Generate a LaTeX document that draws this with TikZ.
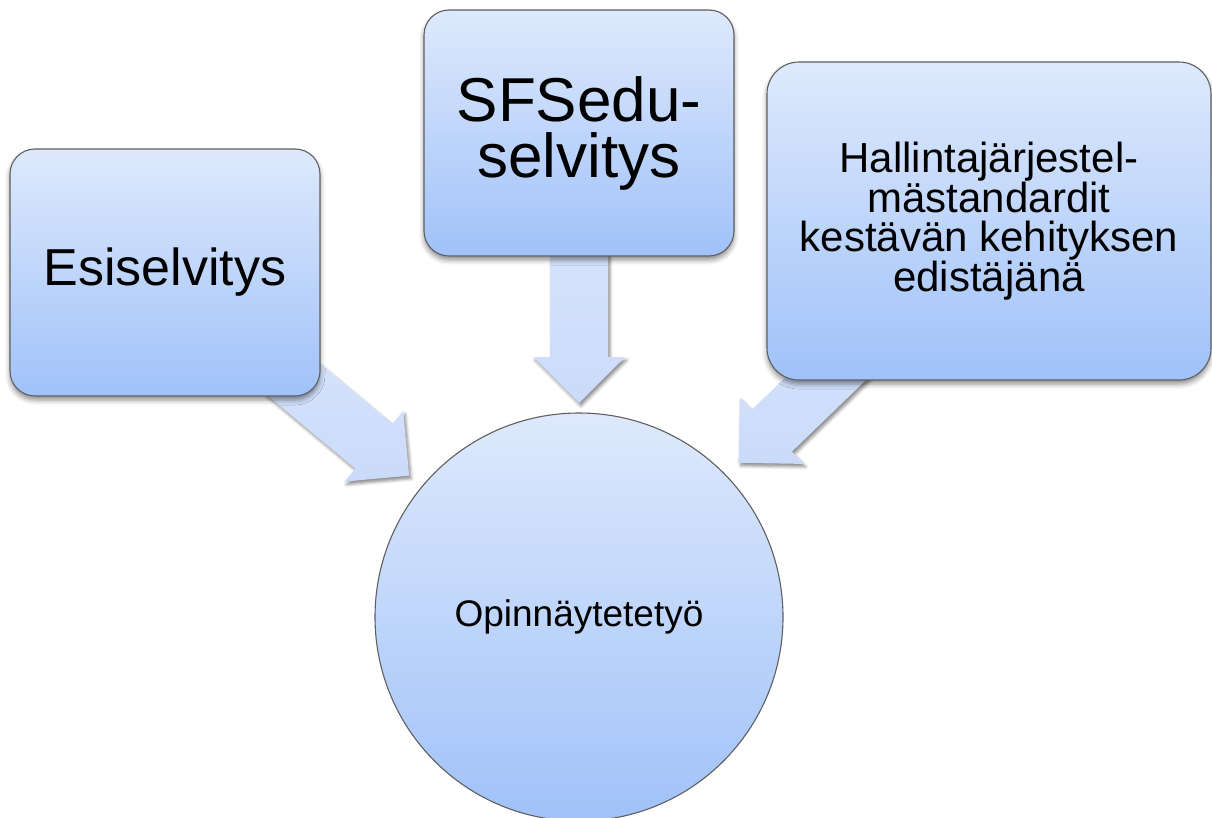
\documentclass[tikz,border=0pt]{standalone}
\usepackage{fontspec}
\setmainfont{Liberation Sans}
\usetikzlibrary{calc,shadows.blur}
\pgfdeclarelayer{bg}
\pgfsetlayers{bg,main}
\definecolor{boxtop}{RGB}{222,233,252}
\definecolor{boxbot}{RGB}{160,194,249}
\definecolor{arrtop}{RGB}{222,232,252}
\definecolor{arrbot}{RGB}{202,219,250}
\definecolor{edgegray}{RGB}{95,95,95}
\tikzset{
  boxshape/.style={draw=edgegray, line width=1.1pt, rounded corners=25pt,
    top color=boxtop, bottom color=boxbot, inner sep=0pt, align=center,
    blur shadow={shadow xshift=0pt, shadow yshift=-4pt, shadow blur radius=5pt, shadow opacity=45}},
  circshape/.style={circle, draw=edgegray, line width=1.1pt,
    top color=boxtop, bottom color=boxbot, inner sep=0pt, align=center},
  arrowshape/.style={top color=arrtop, bottom color=arrbot, draw=none,
    blur shadow={shadow xshift=2pt, shadow yshift=-3pt, shadow blur radius=3pt, shadow opacity=45}}
}
\newcommand\blockarrow[3]{% #1 start, #2 tip, #3 name
  \coordinate (#3hb) at ($(#2)!46pt!(#1)$);
  \path[arrowshape] ($(#1)!29pt!90:(#2)$) -- ($(#3hb)!29pt!90:(#2)$) -- ($(#3hb)!46pt!90:(#2)$) -- (#2)
    -- ($(#3hb)!46pt!-90:(#2)$) -- ($(#3hb)!29pt!-90:(#2)$) -- ($(#1)!29pt!-90:(#2)$) -- cycle;}
\begin{document}
\begin{tikzpicture}[x=1pt,y=-1pt]
\useasboundingbox (0,0) rectangle (1212,817);
\node[boxshape, minimum width=310pt, minimum height=247pt, font=\fontsize{52}{56}\selectfont] (esi) at (165,272.5) {Esiselvitys};
\node[boxshape, minimum width=310pt, minimum height=246pt, font=\fontsize{62}{56}\selectfont] (sfs) at (579,133) {SFSedu-\\selvitys};
\node[boxshape, rounded corners=32pt, minimum width=444pt, minimum height=318pt, font=\fontsize{42}{38.5}\selectfont] (hal) at (989,221) {Hallintajärjestel-\\mästandardit\\kestävän kehityksen\\edistäjänä};
\node[circshape, minimum size=408pt, font=\fontsize{37}{40}\selectfont] (opin) at (579,617) {Opinnäytetetyö};
\coordinate (t1) at ($(opin.center)!221pt!(esi.center)$);
\coordinate (t2) at ($(opin.center)!214pt!(sfs.center)$);
\coordinate (t3) at ($(opin.center)!222pt!(hal.center)$);
\begin{pgfonlayer}{bg}
  \blockarrow{esi.center}{t1}{a}
  \blockarrow{sfs.center}{t2}{b}
  \blockarrow{hal.center}{t3}{c}
\end{pgfonlayer}
\end{tikzpicture}
\end{document}
